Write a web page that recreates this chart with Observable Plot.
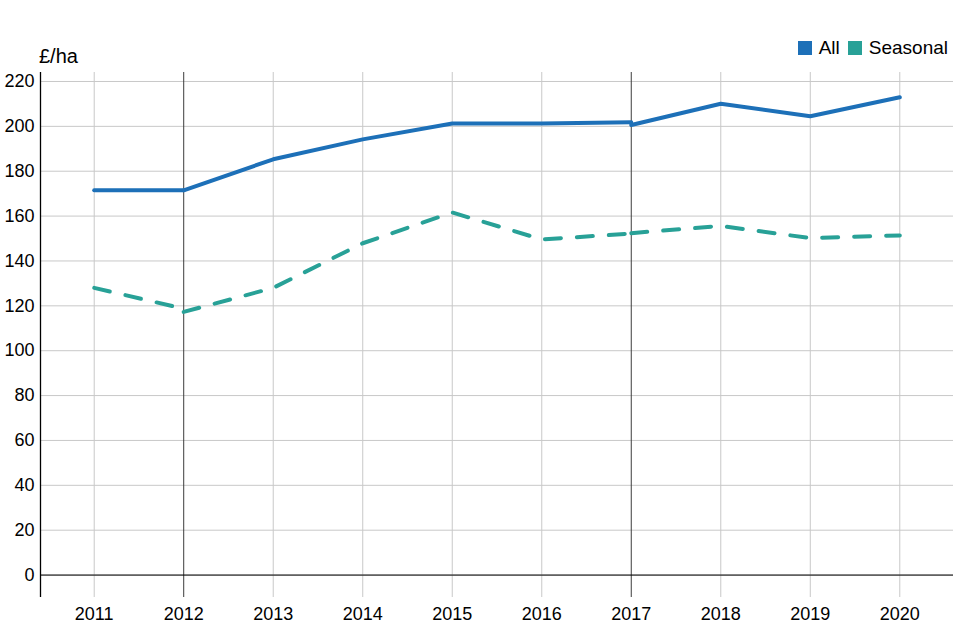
<!DOCTYPE html>
<html>
<head>
<meta charset="utf-8">
<script src="https://cdn.jsdelivr.net/npm/d3@7"></script>
<script src="https://cdn.jsdelivr.net/npm/@observablehq/plot@0.6"></script>
<style>
  body { margin: 0; background: #fff; font-family: "Liberation Sans", Arial, sans-serif; }
  #wrap { width: 960px; }
  #head { position: relative; height: 72px; }
  #unit { position: absolute; left: 39px; top: 46px; font-size: 20px; color: #000; line-height: 1; }
  #legend { position: absolute; right: 12px; top: 38px; font-size: 19px; display: flex; align-items: center; line-height: 1; color: #000; }
  #legend .sw { width: 14px; height: 14px; display: inline-block; margin-right: 7px; }
  #legend .it { display: flex; align-items: center; margin-left: 8px; }
</style>
</head>
<body>
<div id="wrap">
  <div id="head">
    <div id="unit">£/ha</div>
    <div id="legend"></div>
  </div>
  <div id="chart"></div>
</div>
<script>
const years = [2011, 2012, 2013, 2014, 2015, 2016, 2017, 2018, 2019, 2020];
const seriesNames = ["All", "Seasonal"];
const seriesColors = ["#1d70b8", "#28a197"];
const breakYears = [2012, 2017];
const yTicks = [0, 20, 40, 60, 80, 100, 120, 140, 160, 180, 200, 220];

// segments (series breaks at 2012 and 2017)
const allSeg1Years = [2011, 2012];
const allSeg1 = [171.5, 171.5];
const allSeg2Years = [2012, 2013, 2014, 2015, 2016, 2017];
const allSeg2 = [171.5, 185.3, 194.2, 201.3, 201.3, 201.8];
const allSeg3Years = [2017, 2018, 2019, 2020];
const allSeg3 = [200.6, 210.1, 204.5, 213.0];

const seasSeg1Years = [2011, 2012];
const seasSeg1 = [128.0, 118.7];
const seasSeg2Years = [2012, 2013, 2014, 2015, 2016, 2017];
const seasSeg2 = [117.3, 128.0, 147.9, 161.6, 149.6, 152.2];
const seasSeg3Years = [2017, 2018, 2019, 2020];
const seasSeg3 = [152.4, 155.6, 150.2, 151.4];

function rows(series, seg, ys, vs) {
  return ys.map((yr, i) => ({series, seg, year: yr, value: vs[i]}));
}
const allRows = [
  ...rows("All", 1, allSeg1Years, allSeg1),
  ...rows("All", 2, allSeg2Years, allSeg2),
  ...rows("All", 3, allSeg3Years, allSeg3)
];
const seasRows = [
  ...rows("Seasonal", 1, seasSeg1Years, seasSeg1),
  ...rows("Seasonal", 2, seasSeg2Years, seasSeg2),
  ...rows("Seasonal", 3, seasSeg3Years, seasSeg3)
];

const xDomain = [2010.4, 2020.6];

const chart = Plot.plot({
  width: 960,
  height: 568,
  marginLeft: 40,
  marginRight: 7,
  marginTop: 0,
  marginBottom: 43,
  style: {fontFamily: "Liberation Sans, Arial, sans-serif", fontSize: "18px", color: "#000", background: "#fff"},
  x: {domain: xDomain, axis: null},
  y: {domain: [-10, 224], axis: null},
  marks: [
    Plot.gridY(yTicks, {stroke: "#c8c8c8", strokeOpacity: 1}),
    Plot.gridX(years.filter(y => !breakYears.includes(y)), {stroke: "#c8c8c8", strokeOpacity: 1}),
    Plot.ruleX(breakYears, {stroke: "#3c3c3c", strokeWidth: 1}),
    Plot.ruleY([0], {stroke: "#000", strokeWidth: 1}),
    Plot.ruleX([xDomain[0]], {stroke: "#000", strokeWidth: 1.3}),
    Plot.axisY(yTicks, {tickSize: 0, tickPadding: 6, label: null, fontSize: 18, fill: "#000"}),
    Plot.axisX(years, {tickSize: 0, tickPadding: 10, label: null, tickFormat: d => String(d), fontSize: 18, fill: "#000", anchor: "bottom"}),
    Plot.line(allRows, {x: "year", y: "value", z: "seg", stroke: seriesColors[0], strokeWidth: 4, strokeLinejoin: "miter"}),
    Plot.line(seasRows, {x: "year", y: "value", z: "seg", stroke: seriesColors[1], strokeWidth: 4, strokeDasharray: "16 16", strokeLinejoin: "miter"})
  ]
});
document.getElementById("chart").appendChild(chart);

const legend = document.getElementById("legend");
seriesNames.forEach((n, i) => {
  const it = document.createElement("span");
  it.className = "it";
  const sw = document.createElement("span");
  sw.className = "sw";
  sw.style.background = seriesColors[i];
  it.appendChild(sw);
  it.appendChild(document.createTextNode(n));
  legend.appendChild(it);
});
</script>
</body>
</html>
